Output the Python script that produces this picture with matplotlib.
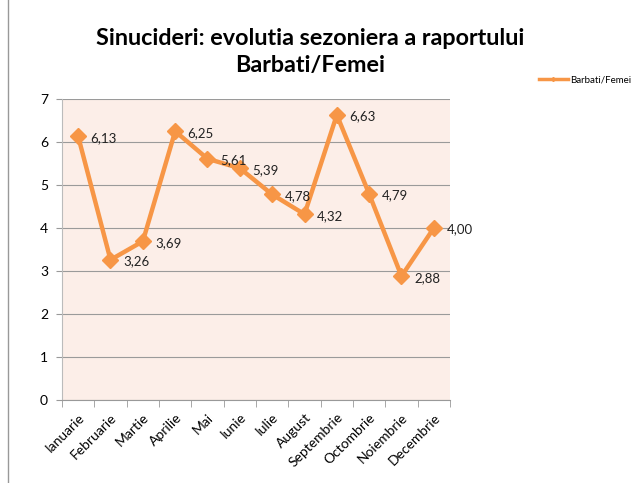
import matplotlib.pyplot as plt
from matplotlib.lines import Line2D

months = ['Ianuarie', 'Februarie', 'Martie', 'Aprilie', 'Mai', 'Iunie',
          'Iulie', 'August', 'Septembrie', 'Octombrie', 'Noiembrie', 'Decembrie']
ratio = [6.13, 3.26, 3.69, 6.25, 5.61, 5.39, 4.78, 4.32, 6.63, 4.79, 2.88, 4.00]
yticks = [0, 1, 2, 3, 4, 5, 6, 7]

orange = '#F79646'
plt.rcParams['font.family'] = ['Lato', 'DejaVu Sans']

fig = plt.figure(figsize=(6.37, 4.83), dpi=100)
ax = fig.add_axes([62 / 637, 1 - 400 / 483, 388 / 637, 301 / 483])
ax.set_facecolor('#FCEEE8')

x = list(range(len(months)))
ax.plot(x, ratio, color=orange, linewidth=3.2, marker='D', markersize=8,
        label='Barbati/Femei', zorder=3)
for i in x:
    ax.annotate(('%.2f' % ratio[i]).replace('.', ','), xy=(x[i], ratio[i]),
                xytext=(9, -4), textcoords='offset points', fontsize=9.5,
                color='#222222', zorder=4)

ax.set_xlim(-0.5, len(months) - 0.5)
ax.set_ylim(0, 7)
ax.set_yticks(yticks)
ax.set_xticks(x)
ax.set_xticklabels(months, rotation=45, ha='right', rotation_mode='anchor',
                   fontsize=10)
ax.set_xticks([i + 0.5 for i in range(-1, len(months))], minor=True)
ax.tick_params(axis='x', which='major', length=0, pad=8)
ax.tick_params(axis='x', which='minor', length=5, color='#999999')
ax.tick_params(axis='y', length=4, color='#999999', labelsize=10, pad=6)
ax.grid(axis='y', color='#9A9A9A', linewidth=0.8)
ax.set_axisbelow(True)
for s in ['top', 'right']:
    ax.spines[s].set_visible(False)
ax.spines['left'].set_color('#BBBBBB')
ax.spines['bottom'].set_color('#999999')

fig.text(310 / 637, 1 - 52 / 483, 'Sinucideri: evolutia sezoniera a raportului\nBarbati/Femei',
         ha='center', va='center', fontsize=16.8, fontweight='bold',
         linespacing=1.35)

handle = Line2D([], [], color=orange, linewidth=2.5, marker='D', markersize=2)
fig.legend([handle], ['Barbati/Femei'], loc='center left',
           bbox_to_anchor=(530 / 637, 1 - 80 / 483), frameon=False,
           fontsize=7, handlelength=3, handletextpad=0.2)

fig.add_artist(Line2D([8 / 637, 8 / 637], [0, 1], color='#999999', linewidth=1))

fig.savefig('out.png', dpi=100)
